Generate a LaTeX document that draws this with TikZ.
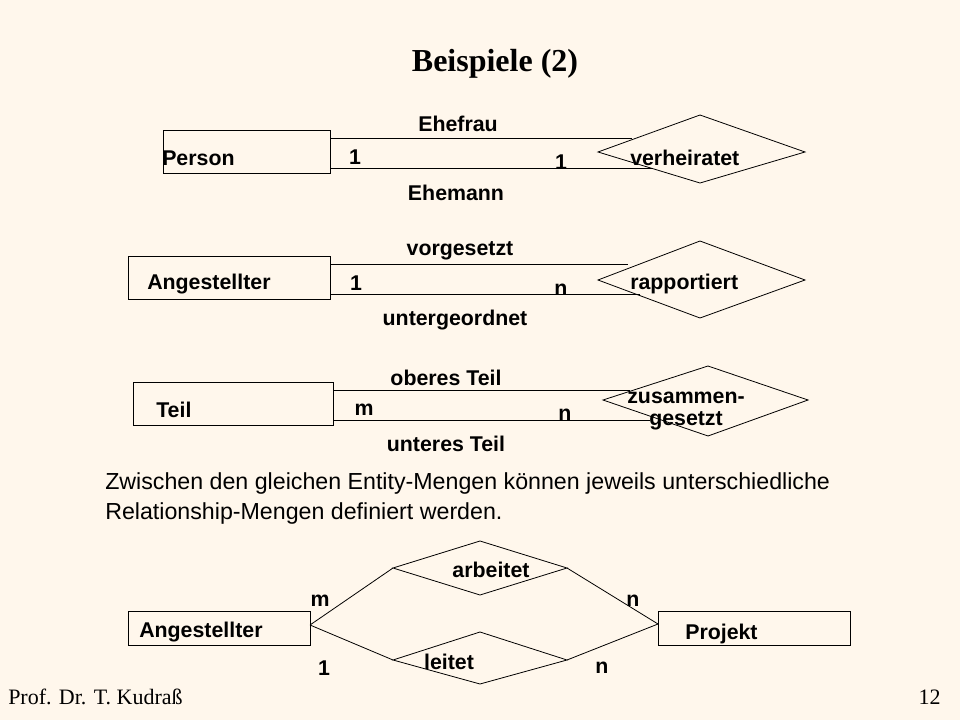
\documentclass[tikz,border=0pt]{standalone}
\usepackage{fontspec}
\setmainfont{Liberation Serif}
\setsansfont{Liberation Sans}
\begin{document}
\begin{tikzpicture}[x=0.75pt,y=-0.75pt,
  lbl/.style={font=\sffamily\bfseries\fontsize{16}{17}\selectfont,inner sep=0pt},
  ln/.style={draw=black,line width=0.6pt}]
\useasboundingbox[fill={rgb,255:red,255;green,247;blue,236}] (0,0) rectangle (960,720);
\node[font=\bfseries\fontsize{24}{26}\selectfont] (title) at (495,64) {Beispiele (2)};
% diagram 1
\draw[ln] (163,130) rectangle (330,173);
\draw[ln] (598,152) -- (700,115) -- (805,152) -- (700,183) -- cycle;
\coordinate (a1) at (330,138); \coordinate (b1) at (632,138);
\coordinate (a2) at (330,168); \coordinate (b2) at (652,168);
\draw[ln] (a1) -- (b1); \draw[ln] (a2) -- (b2);
\node[lbl,anchor=west] (person) at (162,158) {Person};
\node[lbl,anchor=west] (verh) at (630,158) {verheiratet};
\node[lbl] (ehefrau) at (458,124) {Ehefrau};
\node[lbl] (ehemann) at (456,193) {Ehemann};
\node[lbl] (c11) at (355,157) {1};
\node[lbl] (c12) at (561,162) {1};
% diagram 2
\draw[ln] (128,256) rectangle (330,299);
\draw[ln] (598,280) -- (700,241) -- (805,280) -- (700,318) -- cycle;
\coordinate (a3) at (330,264); \coordinate (b3) at (628,264);
\coordinate (a4) at (330,294); \coordinate (b4) at (640,294);
\draw[ln] (a3) -- (b3); \draw[ln] (a4) -- (b4);
\node[lbl,anchor=west] (ang1) at (147,284) {Angestellter};
\node[lbl,anchor=west] (rapp) at (630,284) {rapportiert};
\node[lbl] (vorg) at (460,251) {vorgesetzt};
\node[lbl] (unter) at (455,320) {untergeordnet};
\node[lbl] (c21) at (356,283) {1};
\node[lbl] (c22) at (561,290) {n};
% diagram 3
\draw[ln] (133,382) rectangle (333,425);
\draw[ln] (603,400) -- (708,366) -- (808,400) -- (708,436) -- cycle;
\coordinate (a5) at (333,390); \coordinate (b5) at (630,390);
\coordinate (a6) at (333,420); \coordinate (b6) at (650,420);
\draw[ln] (a5) -- (b5); \draw[ln] (a6) -- (b6);
\node[lbl,anchor=west] (teil) at (156,410) {Teil};
\node[lbl,align=center] (zus) at (686,411) {zusammen-\\gesetzt};
\node[lbl] (ober) at (446,378) {oberes Teil};
\node[lbl] (unteres) at (446,444) {unteres Teil};
\node[lbl] (c31) at (364,410) {m};
\node[lbl] (c32) at (565,415) {n};
% sentence
\node[font=\sffamily\fontsize{17.4}{22.5}\selectfont,anchor=north west,align=left,inner sep=0pt] (txt) at (105,472) {Zwischen den gleichen Entity-Mengen können jeweils unterschiedliche\\Relationship-Mengen definiert werden.};
% diagram 4
\draw[ln] (128,611) rectangle (310,645);
\draw[ln] (658,611) rectangle (850,645);
\coordinate (ea) at (310,625); \coordinate (ep) at (658,624);
\coordinate (al) at (393,568); \coordinate (ar) at (567,568);
\coordinate (ll) at (393,660); \coordinate (lr) at (567,660);
\draw[ln] (al) -- (480,541) -- (ar) -- (480,595) -- cycle;
\draw[ln] (ll) -- (480,632) -- (lr) -- (480,684) -- cycle;
\draw[ln] (ea) -- (al); \draw[ln] (ea) -- (ll);
\draw[ln] (ep) -- (ar); \draw[ln] (ep) -- (lr);
\node[lbl] (arb) at (491,570) {arbeitet};
\node[lbl] (leitet) at (449,662) {leitet};
\node[lbl,anchor=west] (ang2) at (139,632) {Angestellter};
\node[lbl,anchor=west] (proj) at (685,634) {Projekt};
\node[lbl] (c41) at (320,601) {m};
\node[lbl] (c42) at (633,601) {n};
\node[lbl] (c43) at (324,668) {1};
\node[lbl] (c44) at (602,668) {n};
% footer
\node[font=\fontsize{16.5}{18}\selectfont,anchor=west,inner sep=0pt] (prof) at (8,697) {Prof. Dr. T. Kudraß};
\node[font=\fontsize{16.5}{18}\selectfont,anchor=east,inner sep=0pt] (page) at (941,697) {12};
\end{tikzpicture}
\end{document}
